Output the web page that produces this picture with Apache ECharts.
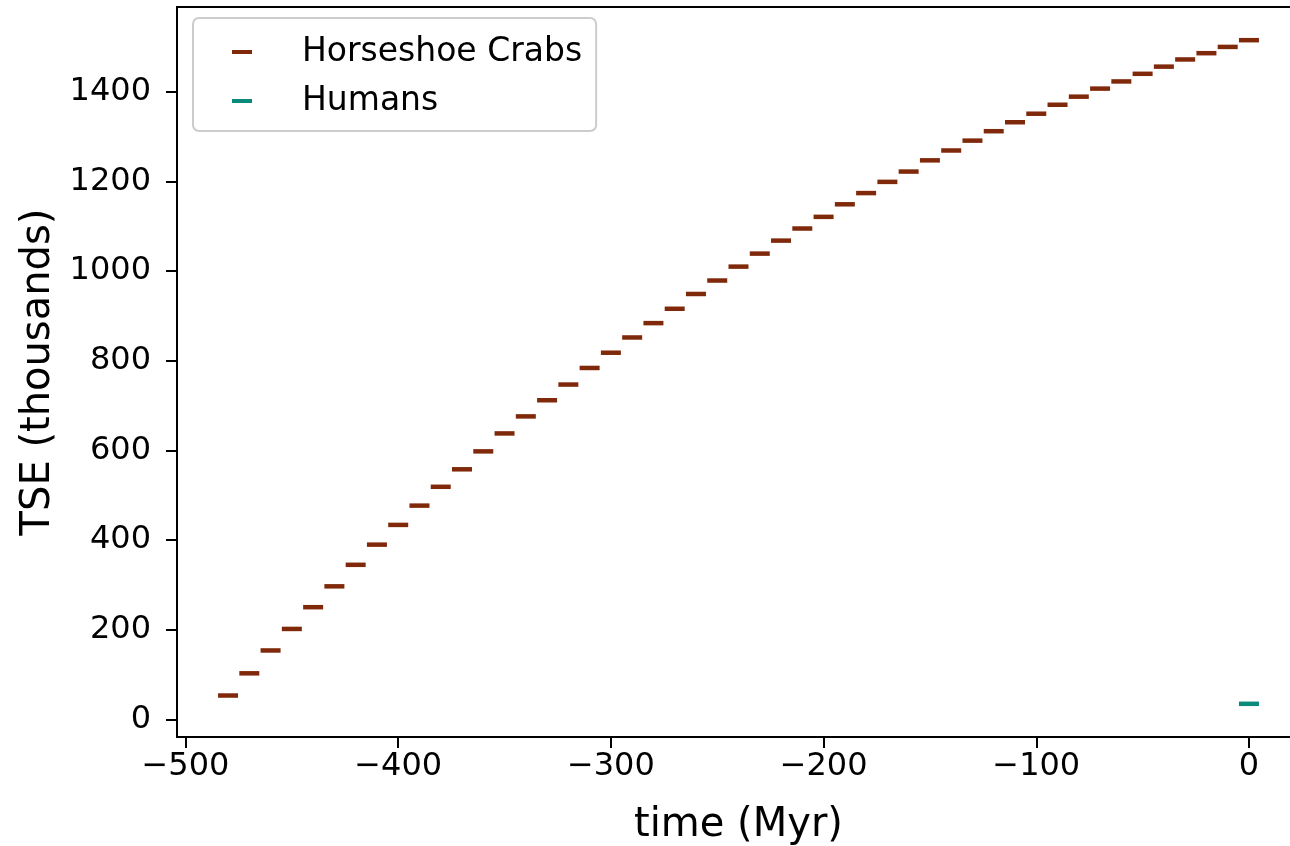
<!DOCTYPE html>
<html>
<head>
<meta charset="utf-8">
<script src="https://cdn.jsdelivr.net/npm/echarts@6/dist/echarts.min.js"></script>
<style>
  html, body { margin: 0; padding: 0; background: #fff; }
  #chart { width: 1290px; height: 846px; }
</style>
</head>
<body>
<div id="chart"></div>
<script>
// time in Myr, TSE in thousands
var crabTimes = [-480, -470, -460, -450, -440, -430, -420, -410, -400, -390,
  -380, -370, -360, -350, -340, -330, -320, -310, -300, -290,
  -280, -270, -260, -250, -240, -230, -220, -210, -200, -190,
  -180, -170, -160, -150, -140, -130, -120, -110, -100, -90,
  -80, -70, -60, -50, -40, -30, -20, -10, 0];
var crabTSE = [53.5, 103, 154, 202, 250.5, 297, 345, 390, 434, 477,
  519, 558, 598, 638, 676, 712, 747, 784, 818, 852,
  884, 916, 949, 979, 1010, 1039, 1068, 1095, 1121, 1149,
  1174, 1199, 1222, 1247, 1269, 1291, 1312, 1332, 1351, 1371,
  1389, 1407, 1423, 1440, 1456, 1472, 1486, 1500, 1515];
var humanTimes = [0];
var humanTSE = [35];
var xTicks = [-500, -400, -300, -200, -100, 0];
var yTicks = [0, 200, 400, 600, 800, 1000, 1200, 1400];

function pairs(xs, ys) {
  var out = [];
  for (var i = 0; i < xs.length; i++) out.push([xs[i], ys[i]]);
  return out;
}

var font = 'DejaVu Sans';
var myChart = echarts.init(document.getElementById('chart'));
var option = {
  animation: false,
  backgroundColor: '#ffffff',
  grid: {
    left: 177,
    top: 7,
    width: 1123,
    height: 730,
    outerBoundsMode: 'none',
    containLabel: false,
    show: true,
    borderColor: '#000',
    borderWidth: 2
  },
  legend: {
    left: 193,
    top: 18,
    orient: 'vertical',
    itemWidth: 20,
    itemHeight: 4,
    itemGap: 9,
    padding: [14, 14, 10, 39],
    borderColor: '#cccccc',
    borderWidth: 2,
    borderRadius: 6,
    backgroundColor: 'rgba(255,255,255,0.8)',
    textStyle: {
      fontFamily: font,
      fontSize: 33,
      lineHeight: 40,
      color: '#000',
      padding: [0, 0, 0, 45]
    },
    data: [
      { name: 'Horseshoe Crabs', icon: 'rect' },
      { name: 'Humans', icon: 'rect' }
    ]
  },
  xAxis: {
    type: 'value',
    min: -504,
    max: 24,
    name: 'time (Myr)',
    nameLocation: 'middle',
    nameGap: 69,
    nameTextStyle: { fontFamily: font, fontSize: 40, color: '#000' },
    axisLine: { onZero: false, lineStyle: { color: '#000', width: 2 } },
    axisTick: { show: true, length: 11, lineStyle: { color: '#000', width: 2 }, customValues: xTicks },
    axisLabel: {
      fontFamily: font, fontSize: 32, color: '#000', margin: 14,
      customValues: xTicks,
      formatter: function (v) { return v < 0 ? '\u2212' + Math.abs(v) : String(v); }
    },
    splitLine: { show: false }
  },
  yAxis: {
    type: 'value',
    min: -39,
    max: 1589,
    name: 'TSE (thousands)',
    nameLocation: 'middle',
    nameGap: 109,
    nameTextStyle: { fontFamily: font, fontSize: 40, color: '#000' },
    axisLine: { onZero: false, lineStyle: { color: '#000', width: 2 } },
    axisTick: { show: true, length: 11, lineStyle: { color: '#000', width: 2 }, customValues: yTicks },
    axisLabel: {
      fontFamily: font, fontSize: 32, color: '#000', margin: 26,
      customValues: yTicks,
      formatter: function (v) { return String(v); }
    },
    splitLine: { show: false }
  },
  series: [
    {
      name: 'Horseshoe Crabs',
      type: 'scatter',
      symbol: 'rect',
      symbolSize: [20, 4.5],
      itemStyle: { color: '#80290a', opacity: 1 },
      data: pairs(crabTimes, crabTSE)
    },
    {
      name: 'Humans',
      type: 'scatter',
      symbol: 'rect',
      symbolSize: [20, 4.5],
      itemStyle: { color: '#0a8a7a', opacity: 1 },
      data: pairs(humanTimes, humanTSE)
    }
  ]
};
myChart.setOption(option);
</script>
</body>
</html>
